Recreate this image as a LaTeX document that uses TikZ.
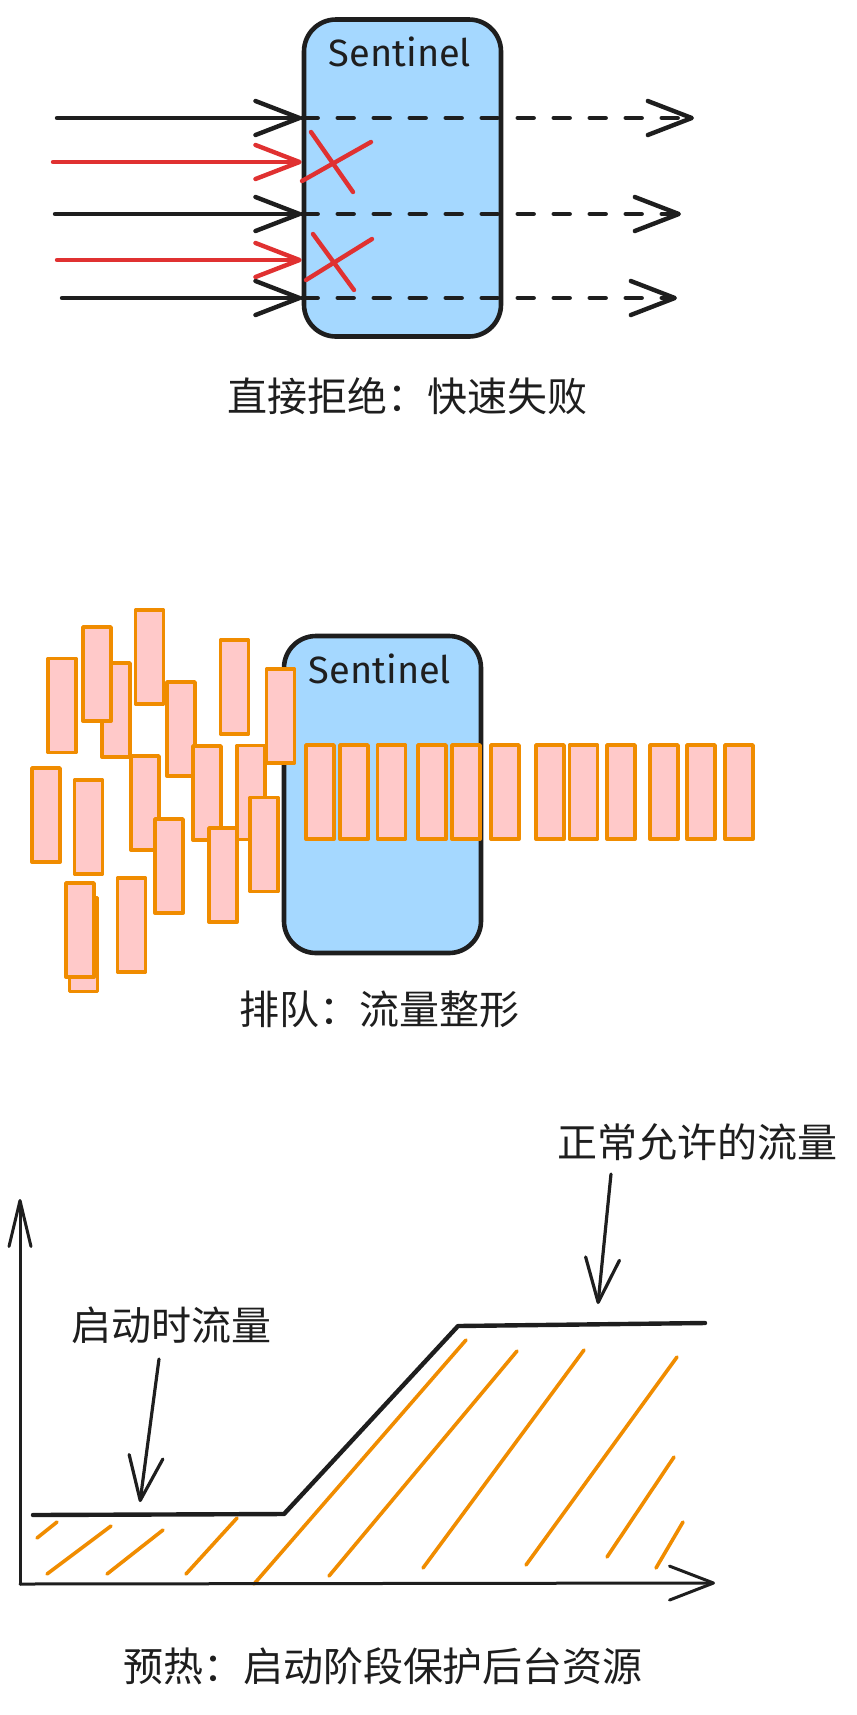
\documentclass[tikz,border=0pt]{standalone}
\usepackage{fontspec}
\usepackage{tikz}
\usetikzlibrary{arrows.meta}
\newfontfamily\cjkfont{Noto Sans CJK SC}
\newfontfamily\handfont{Fira Sans}
\definecolor{ink}{HTML}{1E1E1E}
\definecolor{boxblue}{HTML}{A5D8FF}
\definecolor{rejectred}{HTML}{E03131}
\definecolor{queuepink}{HTML}{FFC9C9}
\definecolor{queueorange}{HTML}{F08C00}
\tikzset{
  barb/.tip={Straight Barb[length=22pt,width=17pt,round]},
  sentbox/.style={draw=ink,fill=boxblue,line width=2.3pt,rounded corners=16pt,
    minimum width=98.5pt,minimum height=158.5pt,inner sep=0pt},
  sentname/.style={font=\handfont\fontsize{19pt}{22pt}\selectfont,text=ink,inner sep=0pt},
  caption/.style={font=\cjkfont\fontsize{20pt}{24pt}\selectfont,text=ink,inner sep=0pt},
  passline/.style={draw=ink,line width=2.2pt,-barb},
  rejectline/.style={draw=rejectred,line width=2.2pt,-barb},
  queuebox/.style={draw=queueorange,fill=queuepink,line width=1.9pt,
    minimum width=14pt,minimum height=47pt,inner sep=0pt},
  hatch/.style={draw=queueorange,line width=1.8pt}
}
\begin{document}
\begin{tikzpicture}[x=0.5pt,y=-0.5pt,line cap=round,line join=round]
  \useasboundingbox (0,0) rectangle (857,1715);

  % reject: fast fail
  \node[sentbox] (sent1) at (402.5,178) {};
  \node[sentname] (name1) at (400,52) {Sentinel};
  \foreach \i/\y/\xs/\xe in {1/118/57/694,2/214/55/681,3/298/62/677}{
    \coordinate (in\i) at (\xs,\y);
    \coordinate (out\i) at (\xe,\y);
    \draw[passline] (in\i) -- (in\i -| sent1.west);
    \draw[passline,dash pattern=on 8pt off 10pt] (in\i -| sent1.west) -- (out\i);
  }
  \foreach \i/\y/\xs in {1/162/53,2/260/57}{
    \coordinate (bad\i) at (\xs,\y);
    \draw[rejectline] (bad\i) -- (bad\i -| sent1.west);
  }
  % crosses
  \draw[rejectred,line width=2.2pt] (311,132) -- (353,192) (302,181) -- (371,142);
  \draw[rejectred,line width=2.2pt] (313,234) -- (354,290) (306,280) -- (372,239);
  \node[caption] (cap1) at (407,396) {直接拒绝：快速失败};

  % queue: traffic shaping
  \node[sentbox] (sent2) at (382.5,794.5) {};
  \node[sentname] (name2) at (380,669) {Sentinel};
  \foreach \x/\y [count=\n] in {62/705.5,116/710,97/674,149.5/657,181/729,
      234.5/687,280.5/716,46/815,88.5/827,145/803,207/793,251/792.5,
      264/844.5,169/866,223/875,83.5/944.5,80/930,131.5/925}
    \node[queuebox] (q\n) at (\x,\y) {};
  \foreach \x [count=\n] in {320,354,391.5,432,466,505,550,583.5,621,664,701,739}
    \node[queuebox] (r\n) at (\x,792) {};
  \node[caption] (cap2) at (379,1009) {排队：流量整形};

  % warm up
  \coordinate (o) at (20,1584);
  \coordinate (ytop) at (20,1199);
  \coordinate (xend) at (715,1583);
  \foreach \a/\b/\c/\d in {37/1538/57/1522,47/1574/111/1526,107/1574/163/1530,
      186/1574/237/1518,254/1584/466/1340,329/1576/517/1351,423/1568/584/1350,
      526/1565/677/1357,607/1557/674/1457,656/1568/683/1522}
    \draw[hatch] (\a,\b) -- (\c,\d);
  \draw[ink,line width=1.5pt,-{Straight Barb[length=23pt,width=11pt,round]}] (o) -- (ytop);
  \draw[ink,line width=1.5pt,-barb] (o) -- (xend);
  \coordinate (s1) at (33,1515);
  \coordinate (s2) at (284,1514);
  \coordinate (s3) at (458,1326);
  \coordinate (s4) at (705,1323);
  \draw[ink,line width=2.2pt] (s1) -- (s2) -- (s3) -- (s4);
  \node[caption] (low) at (171,1325) {启动时流量};
  \node[caption] (high) at (697,1142) {正常允许的流量};
  \coordinate (lowfrom) at (159,1359);
  \coordinate (lowto) at (140,1502);
  \coordinate (highfrom) at (611,1174);
  \coordinate (highto) at (598,1304);
  \draw[passline,line width=1.6pt] (lowfrom) -- (lowto);
  \draw[passline,line width=1.6pt] (highfrom) -- (highto);
  \node[caption] (cap3) at (383,1666) {预热：启动阶段保护后台资源};
\end{tikzpicture}
\end{document}
